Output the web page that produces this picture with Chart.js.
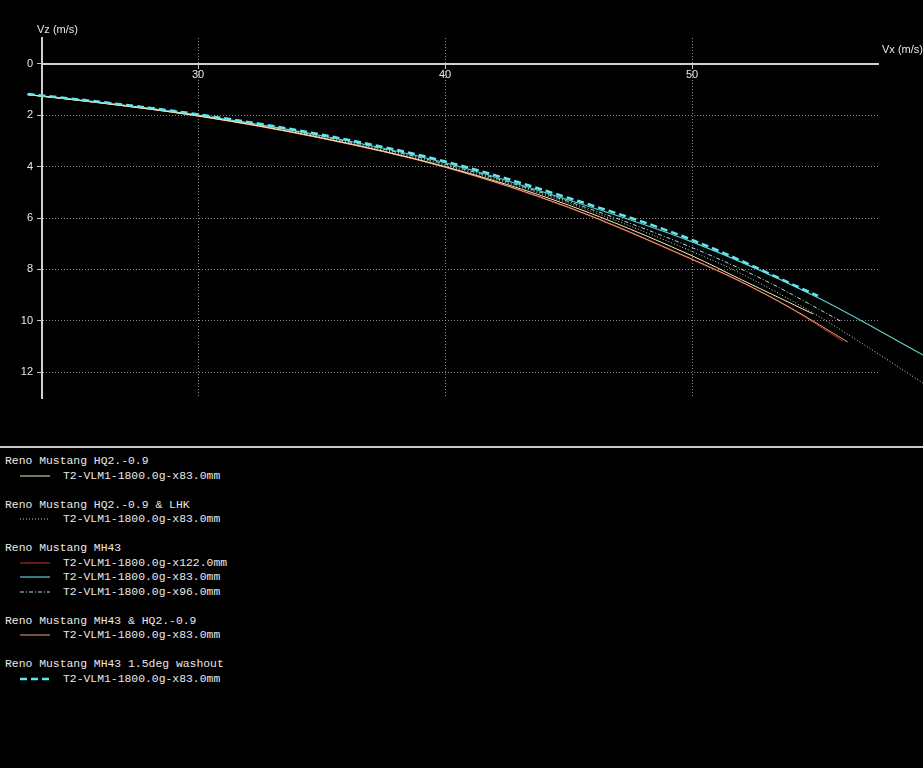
<!DOCTYPE html>
<html><head><meta charset="utf-8">
<script src="https://cdn.jsdelivr.net/npm/chart.js@4.4.1/dist/chart.umd.min.js"></script>
<style>
html,body{margin:0;padding:0;background:#000;width:923px;height:768px;overflow:hidden;}
#wrap{position:absolute;left:0;top:0;width:923px;height:446px;}
#sep{position:absolute;left:0;top:446px;width:923px;height:2px;background:#c8c8c8;}
.axt{position:absolute;color:#e6e6e6;font:11px "Liberation Sans",sans-serif;white-space:nowrap;}
#legend{position:absolute;left:5px;top:454px;font:11.4px "Liberation Mono",monospace;color:#e8e8e8;}
.row{height:14.53px;line-height:14.53px;white-space:pre;position:relative;width:600px;}
.row svg{position:absolute;left:15px;top:2px;}
.row .lbl{position:absolute;left:58px;top:0;}
</style></head><body>
<div id="wrap"><canvas id="c" width="923" height="446"></canvas></div>
<div class="axt" style="left:37px;top:23px;">Vz (m/s)</div>
<div class="axt" style="left:882px;top:43px;">Vx (m/s)</div>
<div id="sep"></div>
<div id="legend"></div>
<script>
// ---- data ----
const xTickValues = [30, 40, 50];
const yTickValues = [0, 2, 4, 6, 8, 10, 12];

const groupNames = [
  "Reno Mustang HQ2.-0.9",
  "Reno Mustang HQ2.-0.9 & LHK",
  "Reno Mustang MH43",
  "Reno Mustang MH43 & HQ2.-0.9",
  "Reno Mustang MH43 1.5deg washout"
];
const seriesLabels = [
  "T2-VLM1-1800.0g-x83.0mm",
  "T2-VLM1-1800.0g-x83.0mm",
  "T2-VLM1-1800.0g-x122.0mm",
  "T2-VLM1-1800.0g-x83.0mm",
  "T2-VLM1-1800.0g-x96.0mm",
  "T2-VLM1-1800.0g-x83.0mm",
  "T2-VLM1-1800.0g-x83.0mm"
];
const seriesGroup = [0, 1, 2, 2, 2, 3, 4];

const vxHQ2 = [23.1, 26, 30, 35, 40, 45, 50, 52, 54.9];
const vzHQ2 = [1.2, 1.52, 2.03, 2.88, 4.0, 5.5, 7.47, 8.4, 9.73];

const vxLHK = [23.1, 26, 30, 35, 40, 45, 50, 52, 54.9, 57, 59.4];
const vzLHK = [1.2, 1.5, 2.0, 2.85, 3.95, 5.42, 7.3, 8.17, 9.69, 10.95, 12.45];

const vxMH122 = [23.1, 26, 30, 35, 40, 45, 50, 52, 54, 56.1];
const vzMH122 = [1.2, 1.52, 2.04, 2.9, 4.03, 5.6, 7.62, 8.5, 9.52, 10.78];

const vxMH83 = [23.1, 26, 30, 35, 40, 45, 50, 55, 59.4];
const vzMH83 = [1.2, 1.5, 2.0, 2.8, 3.85, 5.3, 6.93, 9.05, 11.35];

const vxMH96 = [23.1, 26, 30, 35, 40, 45, 50, 53, 56];
const vzMH96 = [1.2, 1.5, 2.0, 2.82, 3.9, 5.36, 7.15, 8.45, 10.0];

const vxMHHQ2 = [23.1, 26, 30, 35, 40, 45, 50, 52, 54, 56.3];
const vzMHHQ2 = [1.2, 1.52, 2.03, 2.9, 4.02, 5.58, 7.6, 8.48, 9.5, 10.82];

const vxWash = [23.1, 26, 30, 35, 40, 45, 50, 55.1];
const vzWash = [1.18, 1.48, 1.97, 2.76, 3.8, 5.22, 6.85, 9.03];

// ---- styles ----
const seriesX = [vxHQ2, vxLHK, vxMH122, vxMH83, vxMH96, vxMHHQ2, vxWash];
const seriesY = [vzHQ2, vzLHK, vzMH122, vzMH83, vzMH96, vzMHHQ2, vzWash];
const styles = [
  {color:'#f2ecb0', width:1, dash:[]},
  {color:'#d4d4d4', width:1, dash:[1,2]},
  {color:'#c83228', width:1, dash:[]},
  {color:'#5ccfd0', width:1.2, dash:[]},
  {color:'#a8e4d8', width:1, dash:[4,2,1,2]},
  {color:'#e8a080', width:1, dash:[]},
  {color:'#62e6f0', width:2.5, dash:[7,4]}
];

const datasets = seriesX.map((xs, i) => ({
  label: seriesLabels[i],
  data: xs.map((x, k) => ({x: x, y: seriesY[i][k]})),
  borderColor: styles[i].color,
  borderWidth: styles[i].width,
  borderDash: styles[i].dash,
  showLine: true,
  pointRadius: 0,
  cubicInterpolationMode: 'monotone',
  clip: false,
  order: i === 2 ? 10 : (i === 6 ? 0 : 5)
}));

Chart.defaults.color = '#e6e6e6';
Chart.defaults.font.family = '"Liberation Sans", sans-serif';
Chart.defaults.font.size = 11;

new Chart(document.getElementById('c'), {
  type: 'scatter',
  data: {datasets: datasets},
  options: {
    responsive: false,
    animation: false,
    layout: {padding: {top: 38, bottom: 48, left: 0, right: 45}},
    plugins: {legend: {display: false}, tooltip: {enabled: false}},
    scales: {
      x: {
        type: 'linear',
        min: 23.68, max: 57.53,
        position: {y: 0},
        afterBuildTicks: s => { s.ticks = xTickValues.map(v => ({value: v})); },
        ticks: {color: '#e6e6e6', padding: 1, maxRotation: 0},
        grid: {color: '#8a8a8a', lineWidth: 1, tickLength: 4, tickColor: '#c8c8c8', tickWidth: 1},
        border: {color: '#cfcfcf', width: 2, dash: [1, 2]}
      },
      y: {
        type: 'linear',
        reverse: true,
        min: -1, max: 13,
        afterBuildTicks: s => { s.ticks = yTickValues.map(v => ({value: v})); },
        afterFit: s => { s.width = 42; },
        ticks: {color: '#e6e6e6', padding: 4},
        grid: {color: '#8a8a8a', lineWidth: 1, tickLength: 5, tickColor: '#c8c8c8', tickWidth: 1},
        border: {color: '#cfcfcf', width: 2, dash: [1, 2]}
      }
    }
  }
});

// ---- legend (HTML text) ----
const legend = document.getElementById('legend');
groupNames.forEach((g, gi) => {
  if (gi > 0) { const b = document.createElement('div'); b.className = 'row'; legend.appendChild(b); }
  const r = document.createElement('div'); r.className = 'row'; r.textContent = g; legend.appendChild(r);
  seriesGroup.forEach((sg, si) => {
    if (sg !== gi) return;
    const row = document.createElement('div'); row.className = 'row';
    const st = styles[si];
    row.innerHTML = '<svg width="32" height="10"><line x1="0" y1="5" x2="30" y2="5" stroke="' + st.color +
      '" stroke-width="' + st.width + '" stroke-dasharray="' + (st.dash.length ? st.dash.join(',') : 'none') + '"/></svg>';
    const l = document.createElement('span'); l.className = 'lbl'; l.textContent = seriesLabels[si];
    row.appendChild(l); legend.appendChild(row);
  });
});
</script>
</body></html>
